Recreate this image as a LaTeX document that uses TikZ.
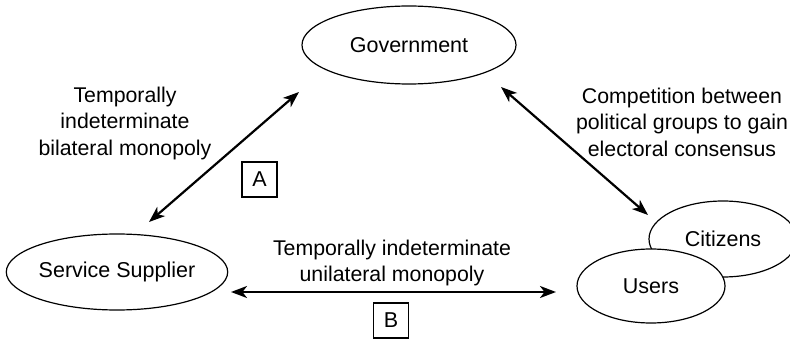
\documentclass[tikz,border=0pt]{standalone}
\usepackage{fontspec}
\setmainfont{Liberation Sans}
\usetikzlibrary{shapes.geometric,arrows.meta}
\begin{document}
\begin{tikzpicture}[x=1pt,y=-1pt,
  actor/.style={ellipse,draw,line width=1.2pt,fill=white,inner sep=0pt,
    font=\fontsize{21.5}{26}\selectfont},
  lbl/.style={align=center,inner sep=0pt,font=\fontsize{21.3}{26.5}\selectfont},
  tag/.style={draw,line width=1.1pt,inner sep=0pt,minimum width=35pt,minimum height=35pt,
    font=\fontsize{21.5}{26}\selectfont},
  link/.style={line width=2.2pt,{Stealth[length=16pt,width=12pt,inset=4.5pt]}-{Stealth[length=16pt,width=12pt,inset=4.5pt]}}]
\useasboundingbox (0,0) rectangle (790,339);

% actors
\node[actor,minimum width=214pt,minimum height=78pt] (gov) at (409,45) {Government};
\node[actor,minimum width=218pt,minimum height=76pt] (sup) at (117,272) {Service Supplier};
\node[actor,minimum width=148pt,minimum height=76pt] (cit) at (723,239) {Citizens};
\node[actor,minimum width=148pt,minimum height=74pt] (usr) at (651,286) {Users};

% relation labels
\node[lbl] (lblA) at (125,123) {Temporally\\indeterminate\\bilateral monopoly};
\node[lbl] (lblC) at (682,122) {Competition between\\political groups to gain\\electoral consensus};
\node[lbl] (lblB) at (392,263) {Temporally indeterminate\\unilateral monopoly};

% tags
\node[tag] (tA) at (259.5,179.5) {A};
\node[tag] (tB) at (391,320.5) {B};

% connector end points
\coordinate (a1) at (149,222);
\coordinate (a2) at (299,92);
\coordinate (c1) at (501,87);
\coordinate (c2) at (648,215);
\coordinate (b1) at (231,292);
\coordinate (b2) at (556,292);

\draw[link] (a1) -- (a2);
\draw[link] (c1) -- (c2);
\draw[link] (b1) -- (b2);
\end{tikzpicture}
\end{document}
